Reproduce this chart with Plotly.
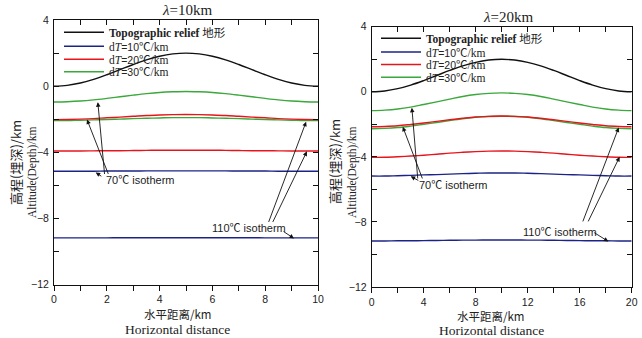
import plotly.graph_objects as go

# ---------------- data ----------------
x_left = [0, 0.5, 1, 1.5, 2, 2.5, 3, 3.5, 4, 4.5, 5, 5.5, 6, 6.5, 7, 7.5, 8, 8.5, 9, 9.5, 10]
x_right = [0, 1, 2, 3, 4, 5, 6, 7, 8, 9, 10, 11, 12, 13, 14, 15, 16, 17, 18, 19, 20]

topo_left = [0, 0.05, 0.19, 0.41, 0.69, 1.0, 1.31, 1.59, 1.81, 1.95, 2.0, 1.95, 1.81, 1.59, 1.31, 1.0, 0.69, 0.41, 0.19, 0.05, 0]
g70_left = [-0.96, -0.94, -0.90, -0.83, -0.74, -0.64, -0.54, -0.45, -0.38, -0.34, -0.32, -0.34, -0.38, -0.45, -0.54, -0.64, -0.74, -0.83, -0.90, -0.94, -0.96]
r70_left = [-2.02, -2.01, -1.99, -1.96, -1.91, -1.87, -1.82, -1.77, -1.74, -1.72, -1.71, -1.72, -1.74, -1.77, -1.82, -1.87, -1.91, -1.96, -1.99, -2.01, -2.02]
g110_left = [-2.08, -2.08, -2.06, -2.04, -2.02, -1.99, -1.96, -1.94, -1.92, -1.90, -1.90, -1.90, -1.92, -1.94, -1.96, -1.99, -2.02, -2.04, -2.06, -2.08, -2.08]
r110_left = [-3.92, -3.92, -3.92, -3.91, -3.90, -3.90, -3.89, -3.88, -3.87, -3.87, -3.87, -3.87, -3.87, -3.88, -3.89, -3.90, -3.90, -3.91, -3.92, -3.92, -3.92]
b70_left = [-5.14, -5.14, -5.14, -5.14, -5.13, -5.13, -5.13, -5.12, -5.12, -5.12, -5.12, -5.12, -5.12, -5.12, -5.13, -5.13, -5.13, -5.14, -5.14, -5.14, -5.14]
b110_left = [-9.17, -9.17, -9.17, -9.17, -9.17, -9.16, -9.16, -9.16, -9.16, -9.16, -9.16, -9.16, -9.16, -9.16, -9.16, -9.16, -9.17, -9.17, -9.17, -9.17, -9.17]

topo_right = [0, 0.05, 0.19, 0.41, 0.69, 1.0, 1.31, 1.59, 1.81, 1.95, 2.0, 1.95, 1.81, 1.59, 1.31, 1.0, 0.69, 0.41, 0.19, 0.05, 0]
g70_right = [-1.16, -1.13, -1.06, -0.94, -0.78, -0.62, -0.45, -0.29, -0.17, -0.10, -0.07, -0.10, -0.17, -0.29, -0.45, -0.62, -0.78, -0.94, -1.06, -1.13, -1.16]
r70_right = [-2.15, -2.13, -2.09, -2.01, -1.92, -1.82, -1.72, -1.63, -1.55, -1.51, -1.49, -1.51, -1.55, -1.63, -1.72, -1.82, -1.92, -2.01, -2.09, -2.13, -2.15]
g110_right = [-2.27, -2.25, -2.20, -2.11, -2.00, -1.89, -1.77, -1.66, -1.57, -1.52, -1.50, -1.52, -1.57, -1.66, -1.77, -1.89, -2.00, -2.11, -2.20, -2.25, -2.27]
r110_right = [-4.03, -4.02, -3.99, -3.95, -3.90, -3.84, -3.77, -3.72, -3.68, -3.65, -3.64, -3.65, -3.68, -3.72, -3.77, -3.84, -3.90, -3.95, -3.99, -4.02, -4.03]
b70_right = [-5.18, -5.18, -5.16, -5.14, -5.11, -5.09, -5.06, -5.03, -5.01, -4.99, -4.99, -4.99, -5.01, -5.03, -5.06, -5.09, -5.11, -5.14, -5.16, -5.18, -5.18]
b110_right = [-9.17, -9.17, -9.16, -9.16, -9.15, -9.14, -9.13, -9.12, -9.12, -9.11, -9.11, -9.11, -9.12, -9.12, -9.13, -9.14, -9.15, -9.16, -9.16, -9.17, -9.17]

panel_titles = ["<i>λ</i>=10km", "<i>λ</i>=20km"]
legend_names = [
    "<b>Topographic relief</b> 地形",
    "d<i>T</i><span style='font-family:Liberation Sans;font-size:10.5px'>=10</span>℃/km",
    "d<i>T</i><span style='font-family:Liberation Sans;font-size:10.5px'>=20</span>℃/km",
    "d<i>T</i><span style='font-family:Liberation Sans;font-size:10.5px'>=30</span>℃/km",
]
iso70_label = "70℃ isotherm"
iso110_label = "110℃ isotherm"
ytitle_cn = "高程(埋深)/km"
ytitle_en = "Altitude(Depth)/km"
xtitle_cn = "水平距离/km"
xtitle_en = "Horizontal distance"

# ---------------- styles ----------------
BLACK = "#111111"
BLUE = "#1c2386"
RED = "#e8141c"
GREEN = "#3aa83a"
SERIF = "Liberation Serif, Times New Roman, Noto Sans CJK SC, serif"
SANS = "Liberation Sans, Arial, Noto Sans CJK SC, sans-serif"
LW = 1.4

fig = go.Figure()


def add_panel(x, topo, g70, g110, r70, r110, b70, b110, xa, ya, legs):
    common = dict(mode="lines", xaxis=xa, yaxis=ya, hoverinfo="skip", line_shape="spline")
    fig.add_trace(go.Scatter(x=x, y=topo, name=legend_names[0], line=dict(color=BLACK, width=LW),
                             legend=legs[0], **common))
    fig.add_trace(go.Scatter(x=x, y=g70, name=legend_names[3], line=dict(color=GREEN, width=LW),
                             legend=legs[3], **common))
    fig.add_trace(go.Scatter(x=x, y=g110, name=legend_names[3], line=dict(color=GREEN, width=LW),
                             showlegend=False, **common))
    fig.add_trace(go.Scatter(x=x, y=r70, name=legend_names[2], line=dict(color=RED, width=LW),
                             legend=legs[2], **common))
    fig.add_trace(go.Scatter(x=x, y=r110, name=legend_names[2], line=dict(color=RED, width=LW),
                             showlegend=False, **common))
    fig.add_trace(go.Scatter(x=x, y=b70, name=legend_names[1], line=dict(color=BLUE, width=LW),
                             legend=legs[1], **common))
    fig.add_trace(go.Scatter(x=x, y=b110, name=legend_names[1], line=dict(color=BLUE, width=LW),
                             showlegend=False, **common))


add_panel(x_left, topo_left, g70_left, g110_left, r70_left, r110_left, b70_left, b110_left, "x", "y",
          ["legend", "legend2", "legend3", "legend4"])
add_panel(x_right, topo_right, g70_right, g110_right, r70_right, r110_right, b70_right, b110_right, "x2", "y2",
          ["legend5", "legend6", "legend7", "legend8"])

# empty traces to realise top (mirror) axes with inward ticks
fig.add_trace(go.Scatter(x=[], y=[], xaxis="x3", yaxis="y", showlegend=False, hoverinfo="skip"))
fig.add_trace(go.Scatter(x=[], y=[], xaxis="x4", yaxis="y2", showlegend=False, hoverinfo="skip"))

W, H = 642, 338
L_dom_x = [54 / W, 318 / W]
L_dom_y = [1 - 284.7 / H, 1 - 20 / H]
R_dom_x = [371.7 / W, 631.7 / W]
R_dom_y = [1 - 287 / H, 1 - 26.7 / H]

tickfont = dict(family=SANS, size=10.5, color="#222")


def xaxis_bottom(dom, anchor, rng, dt, mdt):
    return dict(domain=dom, anchor=anchor, range=rng, dtick=dt, tick0=0, showgrid=False, zeroline=False,
                showline=True, linecolor=BLACK, linewidth=1, ticks="outside", ticklen=5, tickcolor=BLACK,
                tickwidth=1, minor=dict(dtick=mdt, tick0=0, ticks="outside", ticklen=5, tickcolor=BLACK,
                                        showgrid=False),
                tickfont=tickfont, ticklabelstandoff=0, automargin=False, fixedrange=True)


def xaxis_top(over, anchor, rng, mdt):
    return dict(overlaying=over, anchor=anchor, side="top", range=rng, dtick=mdt, tick0=0, showgrid=False,
                zeroline=False, showline=True, linecolor=BLACK, linewidth=1, ticks="inside", ticklen=5,
                tickcolor=BLACK, showticklabels=False, automargin=False, fixedrange=True)


def yaxis(dom, anchor):
    return dict(domain=dom, anchor=anchor, range=[-12, 4], dtick=4, tick0=0, showgrid=False, zeroline=False,
                showline=True, linecolor=BLACK, linewidth=1, mirror="ticks", ticks="inside", ticklen=5,
                tickcolor=BLACK, minor=dict(dtick=2, tick0=0, ticks="inside", ticklen=5, tickcolor=BLACK,
                                            showgrid=False),
                tickfont=tickfont, ticklabelstandoff=2, automargin=False, fixedrange=True)


legend_common = dict(bgcolor="rgba(0,0,0,0)", borderwidth=0, font=dict(family=SERIF, size=11.5, color="#222"),
                     xanchor="left", yanchor="middle", itemwidth=40, itemclick=False, itemdoubleclick=False)

legend_rows_left = [32.3, 46.2, 59.2, 71.8]
legend_rows_right = [38.3, 52.0, 64.5, 77.3]
legends = {}
for i, yy in enumerate(legend_rows_left):
    key = "legend" if i == 0 else "legend%d" % (i + 1)
    legends[key] = dict(x=59 / W, y=1 - yy / H, **legend_common)
for i, yy in enumerate(legend_rows_right):
    legends["legend%d" % (i + 5)] = dict(x=376 / W, y=1 - yy / H, **legend_common)

fig.update_layout(
    template="none",
    width=W, height=H,
    margin=dict(l=0, r=0, t=0, b=0, pad=0, autoexpand=False),
    paper_bgcolor="white", plot_bgcolor="white",
    showlegend=True,
    xaxis=xaxis_bottom(L_dom_x, "y", [0, 10], 2, 1),
    xaxis2=xaxis_bottom(R_dom_x, "y2", [0, 20], 4, 2),
    xaxis3=xaxis_top("x", "y", [0, 10], 1),
    xaxis4=xaxis_top("x2", "y2", [0, 20], 2),
    yaxis=yaxis(L_dom_y, "x"),
    yaxis2=yaxis(R_dom_y, "x2"),
    **legends,
)

ann = []
# panel titles
ann.append(dict(text=panel_titles[0], x=187 / W, y=1 - 10 / H, xref="paper", yref="paper", showarrow=False,
                font=dict(family=SERIF, size=15, color="#222"), xanchor="center", yanchor="middle"))
ann.append(dict(text=panel_titles[1], x=508 / W, y=1 - 17 / H, xref="paper", yref="paper", showarrow=False,
                font=dict(family=SERIF, size=15, color="#222"), xanchor="center", yanchor="middle"))
# y titles
for cx_cn, cx_en, cy_cn, cy_en in [(15, 33, 163, 173), (334, 352, 161, 172)]:
    ann.append(dict(text=ytitle_cn, x=cx_cn / W, y=1 - cy_cn / H, xref="paper", yref="paper", showarrow=False,
                    textangle=-90, font=dict(family="Noto Sans CJK SC, " + SERIF, size=13, color="#222"),
                    xanchor="center", yanchor="middle"))
    ann.append(dict(text=ytitle_en, x=cx_en / W, y=1 - cy_en / H, xref="paper", yref="paper", showarrow=False,
                    textangle=-90, font=dict(family=SERIF, size=11.5, color="#222"),
                    xanchor="center", yanchor="middle"))
# x titles
for cx, cy_cn, cy_en in [(178, 313.5, 329.5), (491, 315.5, 330.5)]:
    ann.append(dict(text=xtitle_cn, x=cx / W, y=1 - cy_cn / H, xref="paper", yref="paper", showarrow=False,
                    font=dict(family="Noto Sans CJK SC, " + SERIF, size=11.5, color="#222"),
                    xanchor="center", yanchor="middle"))
    ann.append(dict(text=xtitle_en, x=cx / W, y=1 - cy_en / H, xref="paper", yref="paper", showarrow=False,
                    font=dict(family=SERIF, size=13.5, color="#222"), xanchor="center", yanchor="middle"))

lab_font = dict(family=SANS, size=11, color="#222")


def arrow(xr, yr, hx, hy, tx, ty):
    return dict(x=hx, y=hy, ax=tx, ay=ty, xref=xr, yref=yr, axref=xr, ayref=yr, showarrow=True,
                arrowhead=2, arrowsize=1, arrowwidth=0.9, arrowcolor=BLACK, text="", standoff=0)


# left panel labels and arrows
ann.append(dict(text=iso70_label, x=3.25, y=-5.7, xref="x", yref="y", showarrow=False, font=lab_font))
ann.append(arrow("x", "y", 1.66, -0.97, 1.92, -5.4))
ann.append(arrow("x", "y", 1.25, -2.02, 2.08, -5.4))
ann.append(arrow("x", "y", 1.58, -5.22, 1.85, -5.5))
ann.append(dict(text=iso110_label, x=7.4, y=-8.6, xref="x", yref="y", showarrow=False, font=lab_font))
ann.append(arrow("x", "y", 9.55, -2.15, 8.11, -8.3))
ann.append(arrow("x", "y", 9.58, -3.94, 8.26, -8.3))
ann.append(arrow("x", "y", 9.09, -9.2, 8.64, -8.73))
# right panel labels and arrows
ann.append(dict(text=iso70_label, x=6.25, y=-5.72, xref="x2", yref="y2", showarrow=False, font=lab_font))
ann.append(arrow("x2", "y2", 3.09, -0.98, 3.55, -5.42))
ann.append(arrow("x2", "y2", 2.39, -2.15, 3.94, -5.42))
ann.append(arrow("x2", "y2", 3.0, -5.2, 3.7, -5.5))
ann.append(dict(text=iso110_label, x=14.5, y=-8.6, xref="x2", yref="y2", showarrow=False, font=lab_font))
ann.append(arrow("x2", "y2", 19.0, -2.2, 16.2, -8.06))
ann.append(arrow("x2", "y2", 19.07, -4.0, 16.6, -8.06))
ann.append(arrow("x2", "y2", 18.2, -9.2, 17.0, -8.6))

fig.update_layout(annotations=ann)

fig.write_html("out.html", config={"displayModeBar": False},
               post_script="document.body.style.margin='0px';")
